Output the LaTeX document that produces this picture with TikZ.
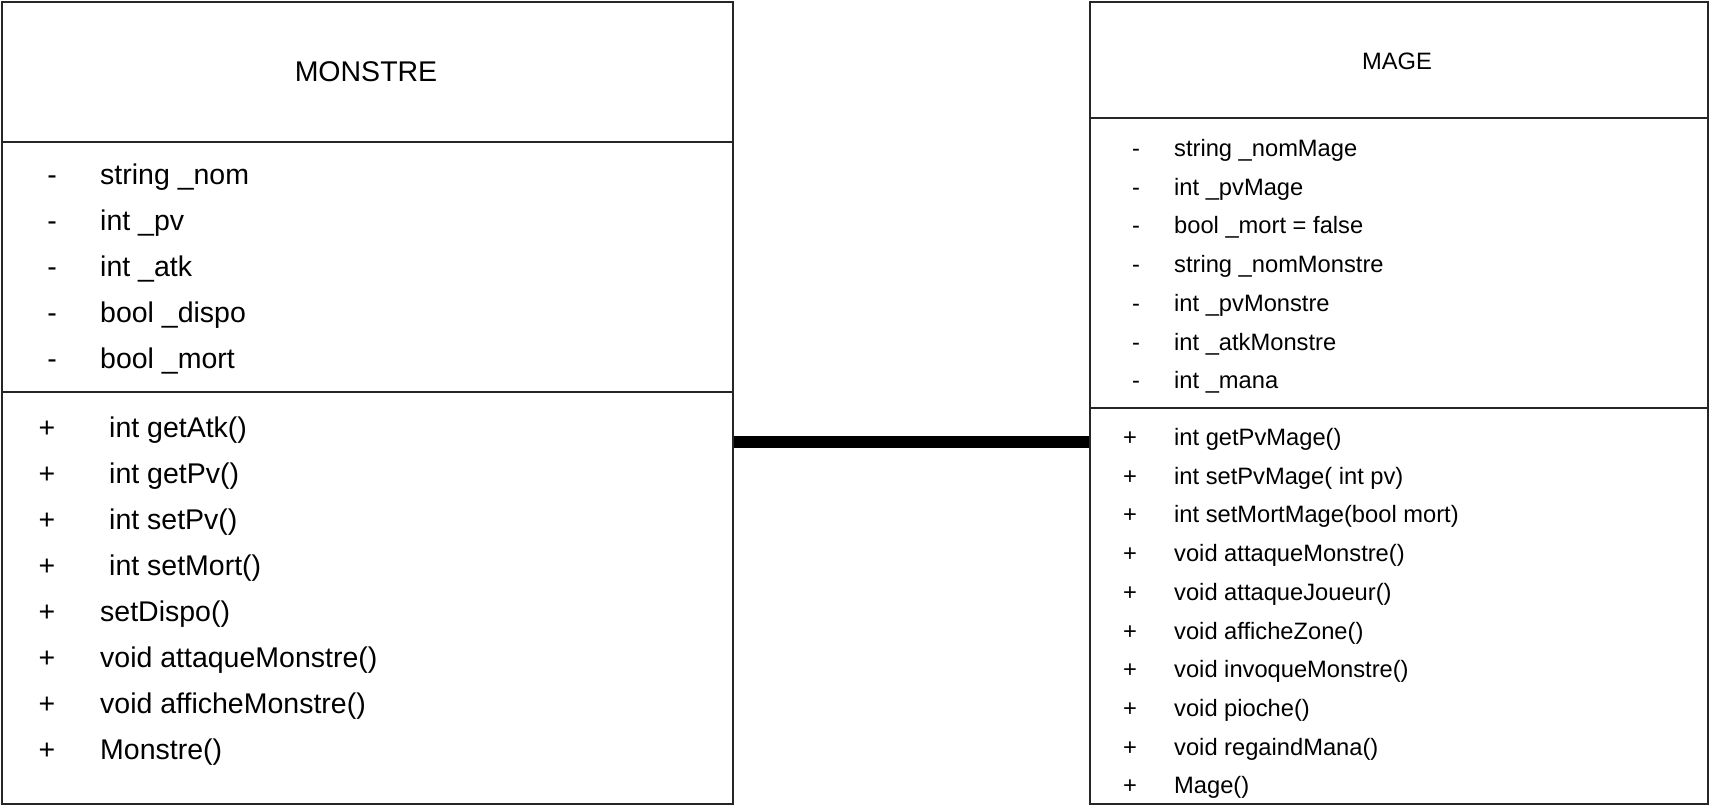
\documentclass[tikz,border=0pt]{standalone}
\usepackage{fontspec}
\setmainfont{Liberation Sans}
\begin{document}
\begin{tikzpicture}[x=1pt,y=-1pt,
  classbox/.style={draw=black!85,line width=1.6pt,rectangle,inner sep=0pt,anchor=north west},
  divider/.style={draw=black!85,line width=1.6pt},
  big/.style={font=\fontsize{28.5}{31}\selectfont,inner sep=0pt},
  small/.style={font=\fontsize{23.7}{26}\selectfont,inner sep=0pt},
  assoc/.style={draw=black,line width=12pt}]
\useasboundingbox (0,0) rectangle (1709,808);
% boxes
\node[classbox,minimum width=731pt,minimum height=802pt] (monstre) at (1,1) {};
\node[classbox,minimum width=618pt,minimum height=802pt] (mage) at (1089,1) {};
\draw[divider] (monstre.west |- 0,142) -- (monstre.east |- 0,142);
\draw[divider] (monstre.west |- 0,392) -- (monstre.east |- 0,392);
\draw[divider] (mage.west |- 0,118) -- (mage.east |- 0,118);
\draw[divider] (mage.west |- 0,408) -- (mage.east |- 0,408);
% titles
\node[big] (tmonstre) at (366,72) {MONSTRE};
\node[small] (tmage) at (1397,61) {MAGE};
% MONSTRE attributes
\foreach \t [count=\i] in {string \_nom, int \_pv, int \_atk, bool \_dispo, bool \_mort}{
  \node[big,anchor=base] (mas\i) at (52,{174+46.2*(\i-1)+10}) {-};
  \node[big,anchor=base west] (mat\i) at (100,{174+46.2*(\i-1)+10}) {\t};
}
% MONSTRE methods
\foreach \t/\x [count=\i] in {int getAtk()/109, int getPv()/109, int setPv()/109, int setMort()/109, setDispo()/100, void attaqueMonstre()/100, void afficheMonstre()/100, Monstre()/100}{
  \node[big,anchor=base] (mms\i) at (47,{427+46.05*(\i-1)+10}) {+};
  \node[big,anchor=base west] (mmt\i) at (\x,{427+46.05*(\i-1)+10}) {\t};
}
% MAGE attributes
\foreach \t [count=\i] in {string \_nomMage, int \_pvMage, bool \_mort = false, string \_nomMonstre, int \_pvMonstre, int \_atkMonstre, int \_mana}{
  \node[small,anchor=base] (gas\i) at (1136,{148+38.7*(\i-1)+8.5}) {-};
  \node[small,anchor=base west] (gat\i) at (1174,{148+38.7*(\i-1)+8.5}) {\t};
}
% MAGE methods
\foreach \t [count=\i] in {int getPvMage(), int setPvMage( int pv), int setMortMage(bool mort), void attaqueMonstre(), void attaqueJoueur(), void afficheZone(), void invoqueMonstre(), void pioche(), void regaindMana(), Mage()}{
  \node[small,anchor=base] (gms\i) at (1130,{437+38.7*(\i-1)+8.5}) {+};
  \node[small,anchor=base west] (gmt\i) at (1174,{437+38.7*(\i-1)+8.5}) {\t};
}
% association
\draw[assoc] (monstre.east |- 0,442) -- (mage.west |- 0,442);
\end{tikzpicture}
\end{document}
